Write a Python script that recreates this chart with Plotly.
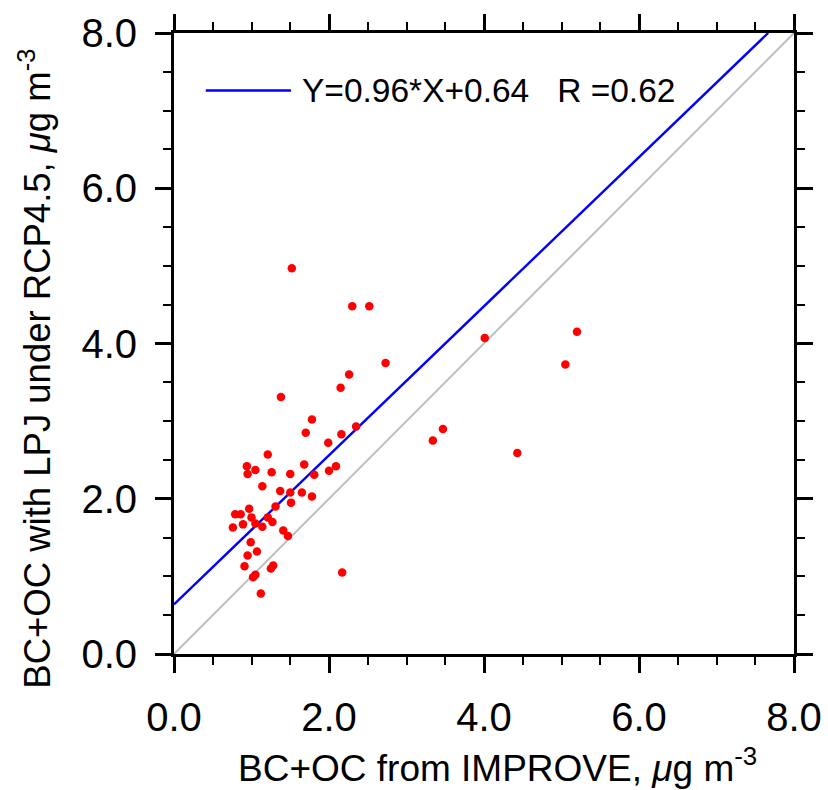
import plotly.graph_objects as go

# Observed (IMPROVE) vs modelled (LPJ, RCP4.5) BC+OC, ug m-3
improve = [1.52, 2.30, 2.52, 2.73, 2.26, 2.15, 1.38, 1.78, 2.35, 1.70,
           2.16, 1.99, 1.21, 0.94, 1.05, 0.95, 1.26, 1.50, 1.68, 1.81,
           2.09, 2.00, 1.14, 1.37, 1.50, 1.65, 1.78, 1.51, 1.31, 0.97,
           0.79, 0.86, 1.00, 1.21, 1.27, 1.05, 0.89, 0.76, 1.14, 1.41,
           1.47, 0.99, 1.07, 0.95, 0.91, 1.28, 1.25, 1.05, 1.02, 2.17,
           1.12, 4.01, 5.20, 5.05, 3.47, 3.34, 4.43]
model = [4.97, 4.48, 4.48, 3.75, 3.60, 3.43, 3.31, 3.02, 2.93, 2.85,
         2.83, 2.72, 2.57, 2.42, 2.37, 2.32, 2.34, 2.32, 2.44, 2.31,
         2.42, 2.36, 2.16, 2.10, 2.08, 2.08, 2.03, 1.95, 1.90, 1.87,
         1.80, 1.80, 1.76, 1.76, 1.70, 1.68, 1.67, 1.63, 1.64, 1.59,
         1.52, 1.44, 1.32, 1.27, 1.13, 1.14, 1.10, 1.02, 0.99, 1.05,
         0.78, 4.07, 4.15, 3.73, 2.90, 2.75, 2.59]

slope = 0.96
intercept = 0.64
r_value = 0.62
axis_min, axis_max = 0.0, 8.0
tick_vals = [0, 2, 4, 6, 8]
tick_text = ["0.0", "2.0", "4.0", "6.0", "8.0"]

fit_x = [axis_min, (axis_max - intercept) / slope]
fit_y = [slope * v + intercept for v in fit_x]

FONT = "Liberation Sans, Arial, Helvetica, sans-serif"

fig = go.Figure()
fig.add_trace(go.Scatter(x=[axis_min, axis_max], y=[axis_min, axis_max], mode="lines",
                         line=dict(color="#BEBEBE", width=2), showlegend=False,
                         hoverinfo="skip"))
fig.add_trace(go.Scatter(x=fit_x, y=fit_y, mode="lines",
                         line=dict(color="#0000FF", width=2.4), showlegend=False))
fig.add_trace(go.Scatter(x=improve, y=model, mode="markers",
                         marker=dict(color="#FF0000", size=8.5, line=dict(width=0)),
                         showlegend=False))

# legend sample line + text
fig.add_shape(type="line", xref="x", yref="y", x0=0.41, x1=1.51, y0=7.26, y1=7.26,
              line=dict(color="#0000FF", width=2.4))
fig.add_annotation(xref="x", yref="y", x=1.62, y=7.26, xanchor="left", yanchor="middle",
                   showarrow=False,
                   text=f"Y={slope:.2f}*X+{intercept:.2f}   R ={r_value:.2f}",
                   font=dict(family=FONT, size=33.5, color="black"))

axis_common = dict(
    range=[axis_min, axis_max], tickvals=tick_vals, ticktext=tick_text,
    showline=True, linecolor="black", linewidth=3, mirror="ticks",
    ticks="outside", ticklen=16, tickwidth=2.5, tickcolor="black",
    minor=dict(dtick=0.5, ticks="outside", ticklen=8, tickwidth=1.5, tickcolor="black",
               showgrid=False),
    showgrid=False, zeroline=False, automargin=False,
    tickfont=dict(family=FONT, size=40, color="black"),
    fixedrange=True,
)

fig.update_xaxes(**axis_common, ticklabelstandoff=10)
fig.update_yaxes(**axis_common, ticklabelstandoff=10)

fig.add_annotation(xref="paper", yref="paper", x=0.5225, y=-0.179,
                   xanchor="center", yanchor="middle", showarrow=False,
                   text="BC+OC from IMPROVE, <i>μ</i>g m<sup>-3</sup>",
                   font=dict(family=FONT, size=37, color="black"))
fig.add_annotation(xref="paper", yref="paper", x=-0.2246, y=0.459,
                   xanchor="center", yanchor="middle", showarrow=False, textangle=-90,
                   text="BC+OC with LPJ under RCP4.5, <i>μ</i>g m<sup>-3</sup>",
                   font=dict(family=FONT, size=36.5, color="black"))

fig.update_layout(
    width=828, height=790, autosize=False,
    margin=dict(l=174, r=34, t=33, b=136, autoexpand=False),
    paper_bgcolor="white", plot_bgcolor="white",
    showlegend=False,
)

fig.write_html("out.html", config={"displayModeBar": False},
               post_script="document.body.style.margin='0';document.body.style.overflow='hidden';")
